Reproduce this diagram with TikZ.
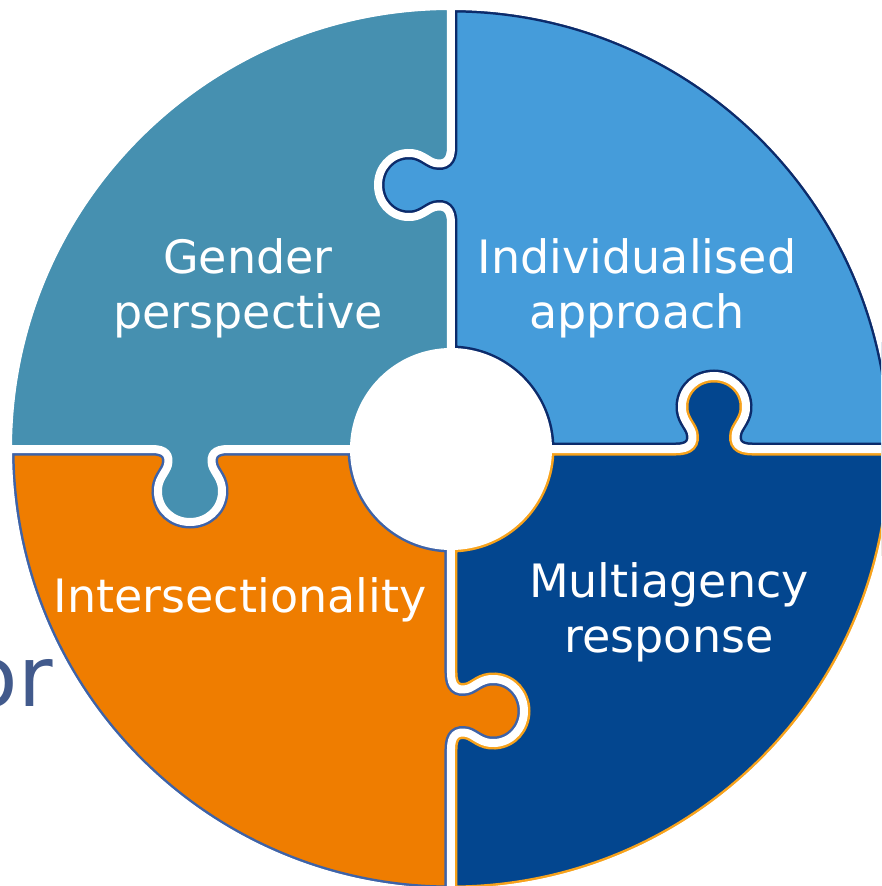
\documentclass[tikz,border=0pt]{standalone}
\usepackage{fontspec}
\setmainfont{DejaVu Sans}
\usepackage{xfp}

\definecolor{pzteal}{HTML}{4690B0}
\definecolor{pzlight}{HTML}{459CDA}
\definecolor{pzdark}{HTML}{03468F}
\definecolor{pzorange}{HTML}{EF7D00}
\definecolor{pznavy}{HTML}{0C2B6B}
\definecolor{pzgold}{HTML}{F7A21B}
\definecolor{pzblue}{HTML}{3E63A8}
\definecolor{pzor}{HTML}{425A8C}

\newcommand\Rout{443}
\newcommand\Rin{97}

% point in a local knob frame: origin (kox,koy), base direction u, protrusion v
\newcommand\KP[2]{(\fpeval{\kox+(#1)*(\kux)+(#2)*(\kvx)},\fpeval{\koy+(#1)*(\kuy)+(#2)*(\kvy)})}
\newcommand\mkknob[7]{%
  \def\kox{#2}\def\koy{#3}\def\kux{#4}\def\kuy{#5}\def\kvx{#6}\def\kvy{#7}%
  \edef#1{-- \KP{-38}{0} .. controls \KP{-24}{0} and \KP{-20}{6} .. \KP{-22}{16}
    .. controls \KP{-24}{24} and \KP{-33}{30} .. \KP{-32}{44}
    .. controls \KP{-31}{61} and \KP{-17}{73} .. \KP{0}{73}
    .. controls \KP{17}{73} and \KP{31}{61} .. \KP{32}{44}
    .. controls \KP{33}{30} and \KP{24}{24} .. \KP{22}{16}
    .. controls \KP{20}{6} and \KP{24}{0} .. \KP{38}{0}}}

\mkknob\knobN{0}{264}{0}{1}{-1}{0}
\mkknob\knobE{263}{0}{-1}{0}{0}{1}
\mkknob\knobS{0}{-262}{0}{-1}{1}{0}
\mkknob\knobW{-261}{0}{1}{0}{0}{-1}

\def\pieceNW{(0,\Rin) \knobN -- (0,\Rout) arc[start angle=90,end angle=180,radius=\Rout pt] \knobW -- (-\Rin,0) arc[start angle=180,end angle=90,radius=\Rin pt] -- cycle}
\def\pieceNE{(0,\Rin) \knobN -- (0,\Rout) arc[start angle=90,end angle=0,radius=\Rout pt] \knobE -- (\Rin,0) arc[start angle=0,end angle=90,radius=\Rin pt] -- cycle}
\def\pieceSE{(0,-\Rin) \knobS -- (0,-\Rout) arc[start angle=-90,end angle=0,radius=\Rout pt] \knobE -- (\Rin,0) arc[start angle=0,end angle=-90,radius=\Rin pt] -- cycle}
\def\pieceSW{(0,-\Rin) \knobS -- (0,-\Rout) arc[start angle=-90,end angle=-180,radius=\Rout pt] \knobW -- (-\Rin,0) arc[start angle=180,end angle=270,radius=\Rin pt] -- cycle}

\tikzset{
  label/.style={text=white, align=center, inner sep=0pt,
    font=\fontsize{46}{55}\selectfont},
  seam/.style={white, line width=3pt},
}

\begin{document}
\begin{tikzpicture}[x=1pt,y=1pt]
\useasboundingbox (-451,-437) rectangle (430,449);
\clip (-451,-437) rectangle (430,449);

% partly hidden background word
\node[anchor=base east, inner sep=0pt, text=pzor, font=\fontsize{84}{100}\selectfont] (orword) at (-398,-257) {or};

% teal piece (no outline)
\begin{scope}
  \clip \pieceNW;
  \fill[pzteal] \pieceNW;
  \draw[white, line width=8pt] \pieceNW;
\end{scope}
% light blue piece
\begin{scope}
  \clip \pieceNE;
  \fill[pzlight] \pieceNE;
  \draw[pznavy, line width=13pt] \pieceNE;
  \draw[white, line width=8pt] \pieceNE;
\end{scope}
% dark blue piece
\begin{scope}
  \clip \pieceSE;
  \fill[pzdark] \pieceSE;
  \draw[pzgold, line width=13pt] \pieceSE;
  \draw[white, line width=8pt] \pieceSE;
\end{scope}
% orange piece
\begin{scope}
  \clip \pieceSW;
  \fill[pzorange] \pieceSW;
  \draw[pzblue, line width=13pt] \pieceSW;
  \draw[white, line width=8pt] \pieceSW;
\end{scope}

% clean seams and rims (hide anti-aliasing traces)
\draw[seam] \pieceNW;
\draw[seam] \pieceNE;
\draw[seam] \pieceSE;
\draw[seam] \pieceSW;
\draw[white, line width=9pt] (0,0) circle[radius=444pt];
\fill[white] (0,0) circle[radius=99pt];

\node[label] (gender) at (-203,160.5) {Gender\\perspective};
\node[label] (indiv) at (186,160.5) {Individualised\\approach};
\node[label] (inter) at (-211,-151) {Intersectionality};
\node[label] (multi) at (218,-163.5) {Multiagency\\response};
\end{tikzpicture}
\end{document}
